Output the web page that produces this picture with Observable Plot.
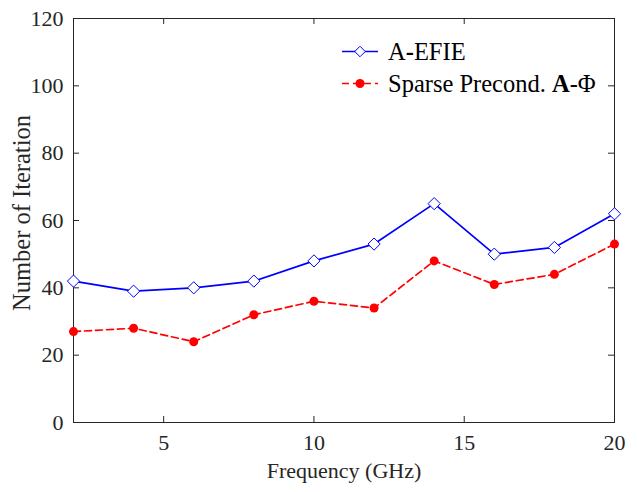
<!DOCTYPE html>
<html>
<head>
<meta charset="utf-8">
<script src="https://cdn.jsdelivr.net/npm/d3@7"></script>
<script src="https://cdn.jsdelivr.net/npm/@observablehq/plot@0.6"></script>
<style>
  html, body { margin: 0; padding: 0; background: #fff; }
  #chart { width: 637px; height: 492px; }
</style>
</head>
<body>
<div id="chart"></div>
<script>
const freq = [2, 4, 6, 8, 10, 12, 14, 16, 18, 20];
const efie = [42, 39, 40, 42, 48, 53, 65, 50, 52, 62];
const sparse = [27, 28, 24, 32, 36, 34, 48, 41, 44, 53];
const xTicks = [5, 10, 15, 20];
const yTicks = [0, 20, 40, 60, 80, 100, 120];

const dEfie = freq.map((f, i) => ({f, v: efie[i]}));
const dSparse = freq.map((f, i) => ({f, v: sparse[i]}));

const font = "'Liberation Serif', 'Times New Roman', serif";
const axisColor = "#262626";
const W = 637, H = 492, mL = 73, mR = 23, mT = 18, mB = 70;
const innerW = W - mL - mR, innerH = H - mT - mB, tk = 6;

const plot = Plot.plot({
  width: W,
  height: H,
  marginLeft: mL,
  marginRight: mR,
  marginTop: mT,
  marginBottom: mB,
  style: {fontFamily: font, fontSize: "22px", color: axisColor, background: "#fff"},
  x: {domain: [2, 20]},
  y: {domain: [0, 120]},
  marks: [
    Plot.frame({stroke: axisColor, strokeWidth: 1}),
    Plot.tickX(xTicks, {x: d => d, insetTop: innerH - tk, stroke: axisColor}),
    Plot.tickX(xTicks, {x: d => d, insetBottom: innerH - tk, stroke: axisColor}),
    Plot.tickY(yTicks, {y: d => d, insetRight: innerW - tk, stroke: axisColor}),
    Plot.tickY(yTicks, {y: d => d, insetLeft: innerW - tk, stroke: axisColor}),
    Plot.axisX(xTicks, {anchor: "bottom", tickSize: 0, tickPadding: 12, fontSize: 22, label: null, fill: axisColor}),
    Plot.axisY(yTicks, {anchor: "left", tickSize: 0, tickPadding: 10, fontSize: 22, label: null, fill: axisColor}),
    Plot.line(dSparse, {x: "f", y: "v", stroke: "#ff0000", strokeWidth: 1.7, strokeDasharray: "7,4"}),
    Plot.dot(dSparse, {x: "f", y: "v", fill: "#ff0000", r: 4.5}),
    Plot.line(dEfie, {x: "f", y: "v", stroke: "#0000ff", strokeWidth: 1.7}),
    Plot.dot(dEfie, {x: "f", y: "v", symbol: "diamond2", fill: "#fff", stroke: "#0000ff", strokeWidth: 1, r: 5.5})
  ]
});

document.getElementById("chart").appendChild(plot);

const svg = d3.select(plot);
// Axis titles
svg.append("text")
  .attr("x", 344).attr("y", 478)
  .attr("text-anchor", "middle")
  .style("font-family", font).style("font-size", "22px").attr("fill", axisColor)
  .text("Frequency (GHz)");
svg.append("text")
  .attr("transform", "translate(30,213) rotate(-90)")
  .attr("text-anchor", "middle")
  .style("font-family", font).style("font-size", "24.5px").attr("fill", axisColor)
  .text("Number of Iteration");

// Legend
const lg = svg.append("g").style("font-family", font).style("font-size", "24.5px").attr("text-anchor", "start");
lg.append("line").attr("x1", 342).attr("x2", 378).attr("y1", 51.5).attr("y2", 51.5)
  .attr("stroke", "#0000ff").attr("stroke-width", 1.7);
lg.append("path").attr("d", d3.symbol(d3.symbolDiamond2, 70)()).attr("transform", "translate(360,51.5)")
  .attr("fill", "#fff").attr("stroke", "#0000ff");
lg.append("text").attr("x", 388).attr("y", 60).attr("fill", "#000")
  .html('A<tspan font-weight="bold">-</tspan>EFIE');
lg.append("line").attr("x1", 342).attr("x2", 378).attr("y1", 83.5).attr("y2", 83.5)
  .attr("stroke", "#ff0000").attr("stroke-width", 1.7).attr("stroke-dasharray", "7,4");
lg.append("circle").attr("cx", 360).attr("cy", 83.5).attr("r", 4.5).attr("fill", "#ff0000");
lg.append("text").attr("x", 388).attr("y", 92).attr("fill", "#000")
  .html('Sparse Precond. <tspan font-weight="bold">A</tspan>-Φ');
</script>
</body>
</html>
